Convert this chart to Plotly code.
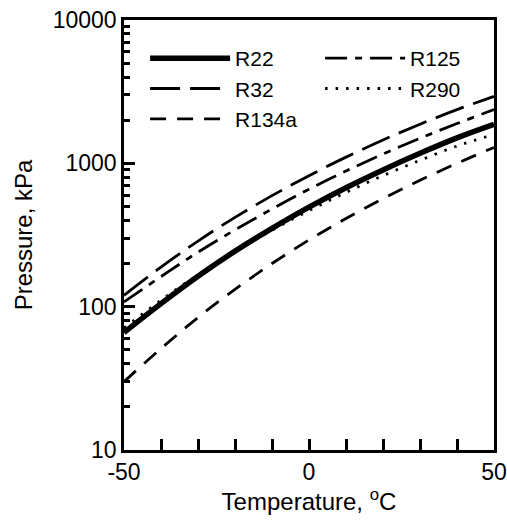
import plotly.graph_objects as go

temperature = [-50, -40, -30, -20, -10, 0, 10, 20, 30, 40, 50]
r22 = [66, 105, 163, 244, 352, 495, 676, 900, 1175, 1505, 1870]
r32 = [120, 189, 287, 420, 595, 820, 1105, 1455, 1875, 2370, 2930]
r125 = [108, 162, 240, 343, 480, 660, 884, 1160, 1495, 1895, 2370]
r134a = [30, 51, 84, 132, 200, 292, 412, 567, 762, 1000, 1290]
r290 = [71, 111, 167, 242, 342, 468, 627, 820, 1050, 1320, 1590]

x_tick_vals = [-50, -40, -30, -20, -10, 0, 10, 20, 30, 40, 50]
x_tick_text = ["-50", " ", " ", " ", " ", "0", " ", " ", " ", " ", "50"]
y_tick_vals = [10, 100, 1000, 10000]
y_tick_text = ["10", "100", "1000", "10000"]
y_minor_vals = [m * 10 ** e for e in (1, 2, 3) for m in range(2, 10)]

series = [
    ("R22", r22, "legend", dict(color="black", width=5.5, dash="solid")),
    ("R32", r32, "legend", dict(color="black", width=2.8, dash="30px,10px")),
    ("R134a", r134a, "legend", dict(color="black", width=2.8, dash="16px,11px")),
    ("R125", r125, "legend2", dict(color="black", width=2.8, dash="22px,8px,7px,8px")),
    ("R290", r290, "legend2", dict(color="black", width=2.8, dash="2.5px,8px")),
]

fig = go.Figure()
for name, vals, leg, line in series:
    fig.add_trace(go.Scatter(x=temperature, y=vals, name=name, mode="lines", legend=leg,
                             line=dict(shape="spline", **line)))

font_family = "Liberation Sans, Arial, sans-serif"
legend_style = dict(orientation="v", xanchor="left", yanchor="top",
                    font=dict(size=21), bgcolor="rgba(0,0,0,0)",
                    itemwidth=80, tracegroupgap=0, borderwidth=0)

fig.update_layout(
    template="none",
    width=507, height=529,
    margin=dict(l=124, r=13, t=20, b=79),
    paper_bgcolor="white", plot_bgcolor="white",
    font=dict(family=font_family, size=23, color="black"),
    legend=dict(x=0.057, y=0.958, **legend_style),
    legend2=dict(x=0.53, y=0.958, **legend_style),
    showlegend=True,
)
fig.update_xaxes(
    range=[-50, 50], tickmode="array", tickvals=x_tick_vals, ticktext=x_tick_text,
    ticks="inside", ticklen=11, tickwidth=3, tickcolor="black",
    showline=True, linewidth=2.5, linecolor="black", mirror=True,
    showgrid=False, zeroline=False, tickfont=dict(size=23),
    title=dict(text="Temperature, <sup>o</sup>C", font=dict(size=24), standoff=4),
)
fig.update_yaxes(
    type="log", range=[1, 4], tickmode="array", tickvals=y_tick_vals, ticktext=y_tick_text,
    ticks="inside", ticklen=11, tickwidth=3, tickcolor="black",
    minor=dict(ticks="inside", ticklen=6, tickwidth=2.5, tickcolor="black",
               tickmode="array", tickvals=y_minor_vals, showgrid=False),
    showline=True, linewidth=2.5, linecolor="black", mirror=True,
    showgrid=False, zeroline=False, tickfont=dict(size=23),
    title=dict(text="Pressure, kPa", font=dict(size=24), standoff=14),
)

fig.write_html("out.html")
